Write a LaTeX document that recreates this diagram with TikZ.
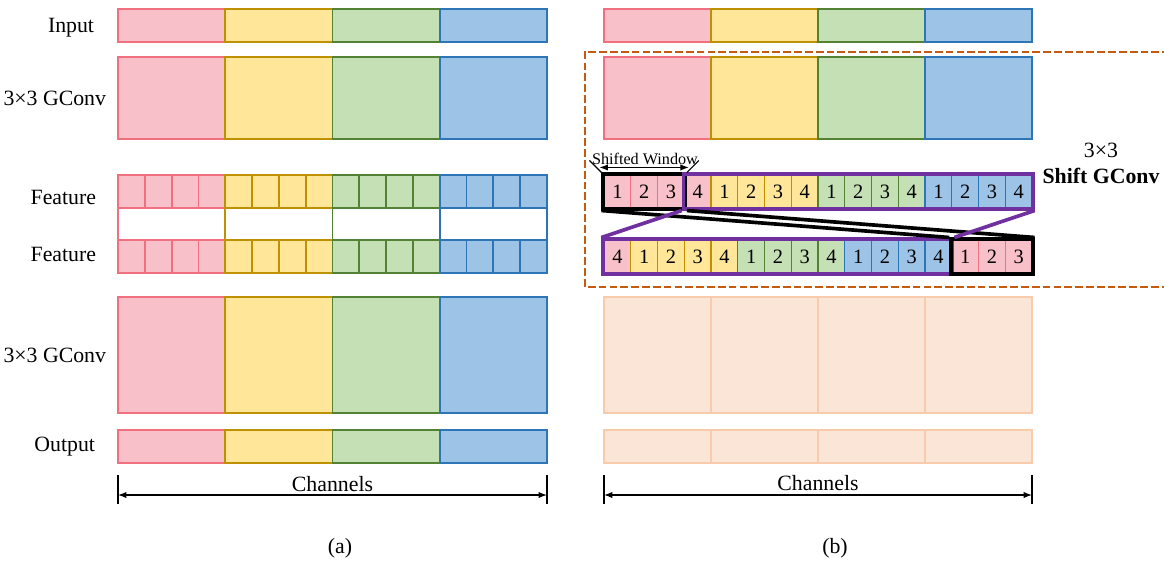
\documentclass[tikz,border=0pt]{standalone}
\usepackage{fontspec}
\setmainfont{Liberation Serif}
\usepackage{tikz}
\usetikzlibrary{arrows.meta, positioning, calc, fit}

\definecolor{pinkfill}{RGB}{248, 192, 200}
\definecolor{pinkline}{RGB}{240, 112, 128}
\definecolor{yellowfill}{RGB}{255, 230, 153}
\definecolor{yellowline}{RGB}{191, 144, 0}
\definecolor{greenfill}{RGB}{197, 224, 180}
\definecolor{greenline}{RGB}{84, 130, 53}
\definecolor{bluefill}{RGB}{157, 195, 230}
\definecolor{blueline}{RGB}{46, 117, 182}
\definecolor{peachfill}{RGB}{251, 229, 214}
\definecolor{peachline}{RGB}{248, 203, 173}
\definecolor{winpurple}{RGB}{112, 48, 160}
\definecolor{dashorange}{RGB}{197, 90, 17}

% group colours by index
\colorlet{cellfill0}{pinkfill}   \colorlet{cellline0}{pinkline}
\colorlet{cellfill1}{yellowfill} \colorlet{cellline1}{yellowline}
\colorlet{cellfill2}{greenfill}  \colorlet{cellline2}{greenline}
\colorlet{cellfill3}{bluefill}   \colorlet{cellline3}{blueline}

\tikzset{
  lbl/.style={font=\fontsize{15.5}{18.5}\selectfont},
  grp/.style={line width=1.3pt},
  cell/.style={draw, line width=1pt, minimum width=0.67cm, minimum height=0.825cm, inner sep=0pt, font=\fontsize{14.5}{16}\selectfont},
  winbox/.style={draw, line width=2.6pt, inner sep=0pt},
  winline/.style={line width=2.6pt},
  dimline/.style={line width=0.8pt, {Latex[length=6pt, width=4.5pt]}-{Latex[length=6pt, width=4.5pt]}}
}

\begin{document}
\begin{tikzpicture}[x=0.025cm, y=-0.025cm]
  \useasboundingbox (0,0) rectangle (1164,561);

  % (a) row labels
  \node[lbl, anchor=east] (inlbl) at (99,28) {Input};
  \node[lbl, anchor=east] (gclbl) at (111,98) {3×3 GConv};
  \node[lbl, anchor=east] (feaA) at (101,197) {Feature};
  \node[lbl, anchor=east] (feaB) at (101,254) {Feature};
  \node[lbl, anchor=east] (gclblB) at (111,355) {3×3 GConv};
  \node[lbl, anchor=east] (outlbl) at (100,447) {Output};

  % (a) grouped bars
  \foreach \ya/\yb in {9/42, 57/139, 297/413, 430/463}
    \foreach \g in {0,...,3}
      \draw[grp, fill=cellfill\g, draw=cellline\g] ({118+107.25*\g},\ya) rectangle ({225.25+107.25*\g},\yb);

  % (a) split features
  \foreach \g in {0,...,3} {
    \draw[grp, draw=cellline\g] ({118+107.25*\g},175) rectangle ({225.25+107.25*\g},273);
    \foreach \c in {0,...,3} {
      \draw[grp, fill=cellfill\g, draw=cellline\g] ({118+107.25*\g+26.81*\c},175) rectangle ++(26.81,33);
      \draw[grp, fill=cellfill\g, draw=cellline\g] ({118+107.25*\g+26.81*\c},240) rectangle ++(26.81,33);
    }
  }

  % (b) input and first conv
  \foreach \ya/\yb in {9/42, 57/139}
    \foreach \g in {0,...,3}
      \draw[grp, fill=cellfill\g, draw=cellline\g] ({604+107*\g},\ya) rectangle ({711+107*\g},\yb);

  % (b) faded conv and output
  \foreach \ya/\yb in {297/413, 430/463}
    \foreach \g in {0,...,3}
      \draw[grp, fill=peachfill, draw=peachline] ({604+107*\g},\ya) rectangle ({711+107*\g},\yb);

  % shift block
  \draw[dashorange, line width=1pt, dash pattern=on 5.5pt off 2.2pt] (1170,52) -- (585,52) -- (585,287) -- (1170,287);

  \foreach \k in {0,...,15} {
    \pgfmathtruncatemacro\g{int(\k/4)}
    \pgfmathtruncatemacro\n{mod(\k,4)+1}
    \node[cell, fill=cellfill\g, draw=cellline\g] (t\k) at ({617.4+26.75*\k},191.5) {\n};
    \pgfmathtruncatemacro\s{mod(\k+3,16)}
    \pgfmathtruncatemacro\h{int(\s/4)}
    \pgfmathtruncatemacro\m{mod(\s,4)+1}
    \node[cell, fill=cellfill\h, draw=cellline\h] (b\k) at ({617.4+26.75*\k},256.5) {\m};
  }

  \node[winbox, draw=black, fit=(t0)(t2)] (topwin) {};
  \node[winbox, draw=winpurple, fit=(t3)(t15)] (toprest) {};
  \node[winbox, draw=winpurple, fit=(b0)(b12)] (botrest) {};
  \node[winbox, draw=black, fit=(b13)(b15)] (botwin) {};

  \draw[winline, black] (topwin.south west) -- (botwin.north west);
  \draw[winline, black] (topwin.south east) -- (botwin.north east);
  \draw[winline, winpurple] (toprest.south west) -- (botrest.north west);
  \draw[winline, winpurple] (toprest.south east) -- (botrest.north east);

  % shifted window marker
  \draw[line width=0.8pt] ($(topwin.north west)+(-12,-12)$) -- (topwin.north west);
  \draw[line width=0.8pt] ($(topwin.north east)+(12,-12)$) -- (topwin.north east);
  \draw[dimline] ($(topwin.north west)+(-2,-5)$) -- ($(topwin.north east)+(2,-5)$);
  \node[font=\fontsize{11.5}{13}\selectfont] (swlbl) at (645,159) {Shifted Window};

  \node[lbl, align=center] (shiftlbl) at (1101,163) {3×3\\\textbf{Shift GConv}};

  % channel extents
  \coordinate (chaL) at (118,495);
  \coordinate (chaR) at (547,495);
  \coordinate (chbL) at (604,495);
  \coordinate (chbR) at (1032,495);
  \draw[line width=0.8pt] (118,475) -- (118,504) (547,475) -- (547,504);
  \draw[line width=0.8pt] (604,475) -- (604,504) (1032,475) -- (1032,504);
  \draw[dimline] (chaL) -- (chaR) node[lbl, midway, above, inner sep=2pt] (chalbl) {Channels};
  \draw[dimline] (chbL) -- (chbR) node[lbl, midway, above, inner sep=3pt] (chblbl) {Channels};

  % captions
  \node[lbl] (capa) at (340,548) {(a)};
  \node[lbl] (capb) at (835,548) {(b)};
\end{tikzpicture}
\end{document}
